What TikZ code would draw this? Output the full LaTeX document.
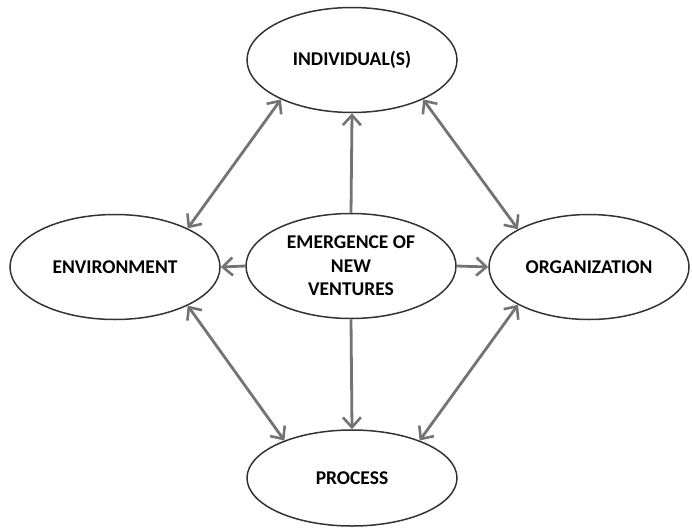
\documentclass[tikz,border=0pt]{standalone}
\usepackage{fontspec}
\setmainfont{Carlito}
\usetikzlibrary{shapes.geometric,arrows.meta}
\tikzset{
  blob/.style={draw=black!80,line width=1.5pt,ellipse,inner sep=0pt,
    minimum width=210pt,minimum height=105pt,align=center,
    font=\fontsize{19.5}{23.5}\selectfont\bfseries},
  barb/.tip={Straight Barb[length=10pt,width=18pt,line width=2.6pt]},
  link/.style={draw=black!55,line width=2.8pt,-barb},
  both/.style={link,barb-barb}
}
\begin{document}
\begin{tikzpicture}[x=1pt,y=-1pt]
\useasboundingbox (0,0) rectangle (692,527);
\node[blob] (ind) at (352,60) {INDIVIDUAL(S)};
\node[blob] (cen) at (351,266) {EMERGENCE OF\\NEW\\VENTURES};
\node[blob] (env) at (115,267) {ENVIRONMENT};
\node[blob,minimum width=200pt] (org) at (589,267) {ORGANIZATION};
\node[blob,minimum height=96pt] (proc) at (352,478) {PROCESS};
\draw[link] (cen.north)--(ind.south);
\draw[link] (cen.west)--(env.east);
\draw[link] (cen.east)--(org.west);
\draw[link] (cen.south)--(proc.north);
\draw[both] (ind.209)--(env.28);
\draw[both] (ind.331)--(org.152);
\draw[both] (env.332)--(proc.151);
\draw[both] (org.208)--(proc.29);
\end{tikzpicture}
\end{document}
